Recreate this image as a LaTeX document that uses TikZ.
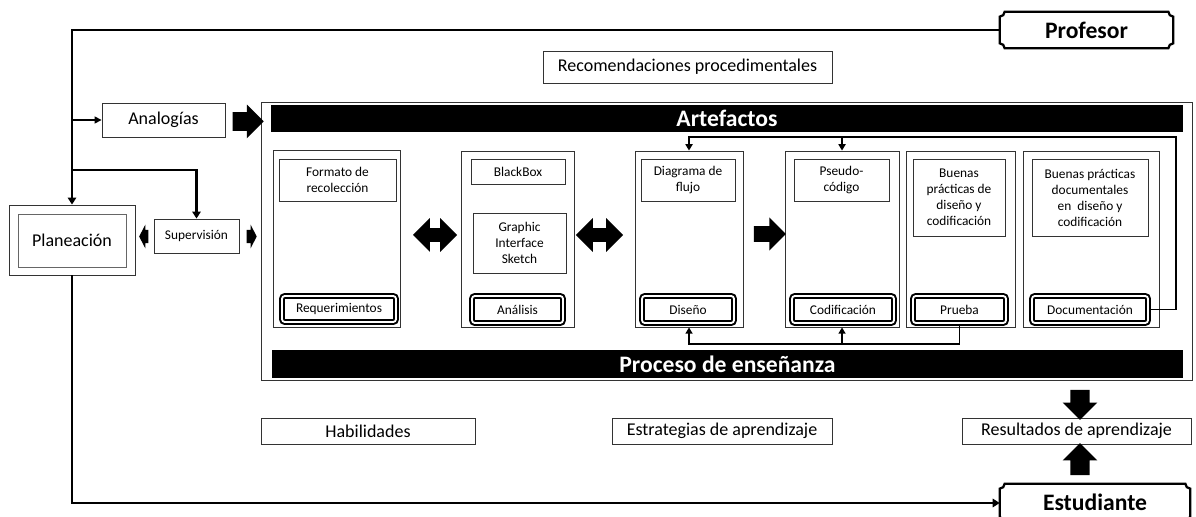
\documentclass[tikz,border=0pt]{standalone}
\usepackage{fontspec}
\setmainfont{Carlito}
\usepackage{tikz}
\usetikzlibrary{fit,arrows.meta}
\usetikzlibrary{shapes.arrows}

\newcommand{\smallsz}{\fontsize{9.5}{11.4}\selectfont}
\newcommand{\normsz}{\fontsize{12.8}{15}\selectfont}
\newcommand{\bigsz}{\fontsize{16.8}{20}\selectfont\bfseries}
\newcommand{\plaqueframe}[1]{%
  \draw[line width=1.6pt]
  ([xshift=3.5pt]#1.north west) -- ([xshift=-3.5pt]#1.north east)
  arc[start angle=180,end angle=270,radius=3.5pt]
  -- ([yshift=3.5pt]#1.south east)
  arc[start angle=90,end angle=180,radius=3.5pt]
  -- ([xshift=3.5pt]#1.south west)
  arc[start angle=0,end angle=90,radius=3.5pt]
  -- ([yshift=-3.5pt]#1.north west)
  arc[start angle=270,end angle=360,radius=3.5pt] -- cycle;}

\tikzset{
  box/.style={draw=black!80, line width=0.6pt, inner sep=0pt},
  column/.style={draw=black!80, line width=0.6pt, inner sep=0pt},
  stage/.style={draw, line width=1.4pt, double, double distance=1.3pt, rounded corners=2pt, inner sep=0pt},
  bar/.style={fill=black, inner sep=0pt},
  actor/.style={inner sep=0pt},
  ntxt/.style={inner sep=0pt, align=center, font=\normsz},
  stxt/.style={inner sep=0pt, align=center, font=\smallsz},
  btxt/.style={inner sep=0pt, font=\bigsz},
  wtxt/.style={btxt, text=white},
  rail/.style={line width=1.8pt, -{Triangle[length=5pt,width=6pt]}},
  backloop/.style={line width=1.4pt, -{Triangle[length=4.5pt,width=5pt]}},
  fatarrow/.style={single arrow, fill=black, inner xsep=0pt, minimum width=0pt},
  twoway/.style={double arrow, fill=black, inner xsep=0pt, minimum width=0pt},
}

\begin{document}
\begin{tikzpicture}[x=0.025cm, y=-0.025cm]
\useasboundingbox (0,0) rectangle (1196,517);

\node[actor, fit={(1000,12) (1173,48)}, label={[btxt]center:Profesor}] (prof) {};
\node[actor, fit={(1000,484) (1190,522)}, label={[btxt, yshift=0.5pt]center:Estudiante}] (est) {};
\plaqueframe{prof}
\plaqueframe{est}

\node[box, fit={(543,51) (832,83)}, label={[ntxt]center:Recomendaciones procedimentales}] (recom) {};
\node[box, fit={(102,103) (225,137)}, label={[ntxt]center:Analogías}] (analog) {};
\node[box, fit={(9,205) (135,275)}] (plan) {};
\node[box, draw=black!60, fit={(18,214) (126,267)}, label={[ntxt]center:Planeación}] (planin) {};
\node[box, fit={(154,219) (239,253)}, label={[stxt]center:Supervisión}] (sup) {};

\node[column, fit={(261,102) (1192,380)}] (proc) {};
\node[bar, fit={(271,105) (1183,132)}, label={[wtxt]center:Artefactos}] (art) {};
\node[bar, fit={(272,350) (1183,378)}, label={[wtxt]center:Proceso de enseñanza}] (ens) {};

\node[column, fit={(273,150) (400,327)}] (colreq) {};
\node[box, fit={(279,159) (396,201)}, label={[stxt]center:Formato de\\recolección}] (fmt) {};
\node[stage, fit={(282,296) (396,322)}, label={[stxt]center:Requerimientos}] (req) {};

\node[column, fit={(461,151) (574,327)}] (colana) {};
\node[box, fit={(471,159) (565,184)}, label={[stxt]center:BlackBox}] (bbox) {};
\node[box, fit={(473,213) (566,273)}, label={[stxt]center:Graphic\\Interface\\Sketch}] (gis) {};
\node[stage, fit={(472,296) (563,323)}, label={[stxt]center:Análisis}] (ana) {};

\node[column, fit={(635,151) (743,327)}] (coldis) {};
\node[box, fit={(641,159) (735,201)}, label={[stxt]center:Diagrama de\\flujo}] (flujo) {};
\node[stage, fit={(642,296) (734,323)}, label={[stxt]center:Diseño}] (dis) {};

\node[column, fit={(785,151) (899,327)}] (colcod) {};
\node[box, fit={(794,159) (889,201)}, label={[stxt]center:Pseudo-\\código}] (pseudo) {};
\node[stage, fit={(792,296) (894,323)}, label={[stxt]center:Codificación}] (cod) {};

\node[column, fit={(906,151) (1015,327)}] (colpru) {};
\node[box, fit={(913,159) (1005,236)}, label={[stxt]center:Buenas\\prácticas de\\diseño y\\codificación}] (bp) {};
\node[stage, fit={(913,296) (1006,323)}, label={[stxt]center:Prueba}] (pru) {};

\node[column, fit={(1023,151) (1159,327)}] (coldoc) {};
\node[box, fit={(1032,159) (1148,236)}, label={[stxt]center:Buenas prácticas\\documentales\\en\ \ diseño y\\codificación}] (bpd) {};
\node[stage, fit={(1032,296) (1148,323)}, label={[stxt]center:Documentación}] (doc) {};

\node[box, fit={(261,418) (475,444)}, label={[ntxt]center:Habilidades}] (hab) {};
\node[box, fit={(612,418) (832,444)}, label={[ntxt]center:Estrategias de aprendizaje}] (estr) {};
\node[box, fit={(962,418) (1191,444)}, label={[ntxt]center:Resultados de aprendizaje}] (res) {};

\node[fatarrow, minimum height=0.78cm, inner ysep=0.225cm, single arrow head extend=0.19cm] (a1) at (243.5,121.5) {};
\node[fatarrow, shape border rotate=180, minimum height=0.23cm, inner ysep=0.16cm, single arrow head extend=0.13cm, single arrow tip angle=125] (a2) at (145.5,236.5) {};
\node[fatarrow, minimum height=0.25cm, inner ysep=0.16cm, single arrow head extend=0.13cm, single arrow tip angle=125] (a3) at (250,236.5) {};
\node[twoway, minimum height=1.1cm, inner ysep=0.165cm, double arrow head extend=0.25cm] (a4) at (435,235) {};
\node[twoway, minimum height=1.18cm, inner ysep=0.165cm, double arrow head extend=0.25cm] (a5) at (599.5,235) {};
\node[fatarrow, minimum height=0.8cm, inner ysep=0.19cm, single arrow head extend=0.22cm] (a6) at (766,234) {};
\node[fatarrow, shape border rotate=270, minimum height=0.75cm, inner xsep=0.235cm, inner ysep=0pt, single arrow head extend=0.19cm] (a7) at (1080,400) {};
\node[fatarrow, shape border rotate=90, minimum height=0.8cm, inner xsep=0.235cm, inner ysep=0pt, single arrow head extend=0.19cm] (a8) at (1080,464) {};

\coordinate (j1) at (72,120);
\coordinate (j2) at (72,170);
\coordinate (toprail) at (1176,137);
\coordinate (lowrail) at (0,344);

\draw[rail] (prof.west) -| (plan.north);
\draw[rail] (j2) -| (sup.north);
\draw[line width=1pt, -{Triangle[length=5pt,width=5pt]}] (j1) -- (analog.west);
\draw[rail] (plan.south) |- (est.west);
\draw[backloop] (doc.east) -| (toprail) -| (coldis.north);
\draw[backloop] (pru.south) |- (coldis.south |- lowrail) -- (coldis.south);
\path[backloop]
(colcod.north |- toprail) edge (colcod.north)
(colcod.south |- lowrail) edge (colcod.south);
\end{tikzpicture}
\end{document}
